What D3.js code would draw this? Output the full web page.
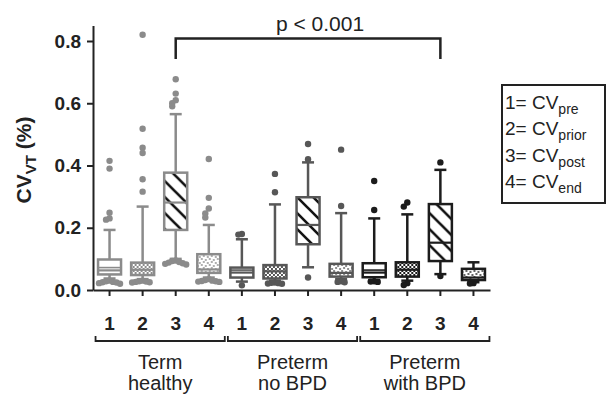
<!DOCTYPE html>
<html>
<head>
<meta charset="utf-8">
<script src="https://cdn.jsdelivr.net/npm/d3@7"></script>
<style>
body { margin: 0; background: #fff; }
svg { font-family: "Liberation Sans", Arial, sans-serif; }
</style>
</head>
<body>
<svg width="606" height="396"></svg>
<script>
// groups and phases
let groups = [["Term", "healthy"], ["Preterm", "no BPD"], ["Preterm", "with BPD"]];
let phases = ["1", "2", "3", "4"];
let legendSubs = ["pre", "prior", "post", "end"];
let yTicks = [0, 0.2, 0.4, 0.6, 0.8];

// box stats, 12 boxes in order group1 1-4, group2 1-4, group3 1-4
let q1 =       [0.050, 0.048, 0.193, 0.055,  0.040, 0.037, 0.147, 0.043,  0.041, 0.043, 0.093, 0.032];
let medians =  [0.063, 0.065, 0.281, 0.066,  0.056, 0.060, 0.209, 0.055,  0.056, 0.065, 0.152, 0.040];
let q3 =       [0.098, 0.088, 0.377, 0.115,  0.072, 0.080, 0.298, 0.084,  0.086, 0.089, 0.276, 0.068];
let whiskLo =  [0.037, 0.035, 0.100, 0.040,  0.027, 0.030, 0.073, 0.035,  0.032, 0.030, 0.051, 0.025];
let whiskHi =  [0.193, 0.268, 0.565, 0.209,  0.163, 0.275, 0.410, 0.247,  0.230, 0.243, 0.386, 0.089];
let secondLine = [0.072, null, null, null,  0.064, null, null, null,  0.064, null, null, null];
let outliers = [
  [0.415, 0.39, 0.248, 0.23, 0.226, 0.03, 0.028, 0.026, 0.025, 0.024, 0.022, 0.02],
  [0.82, 0.518, 0.457, 0.44, 0.356, 0.316, 0.03, 0.028, 0.027, 0.026, 0.025, 0.024],
  [0.677, 0.631, 0.61, 0.6, 0.59, 0.095, 0.093, 0.09, 0.088, 0.086, 0.084, 0.082],
  [0.421, 0.296, 0.262, 0.246, 0.233, 0.035, 0.032, 0.03, 0.029, 0.028, 0.027, 0.026],
  [0.18, 0.178, 0.015],
  [0.373, 0.314, 0.024, 0.023, 0.022, 0.021, 0.02],
  [0.469, 0.42, 0.04],
  [0.451, 0.27, 0.028, 0.026, 0.025],
  [0.35, 0.257, 0.028, 0.027, 0.026],
  [0.281, 0.268, 0.022, 0.016],
  [0.41, 0.045],
  [0.022, 0.021]
];
let groupColors = ["#8b8b8b", "#575757", "#1c1c1c"];
let sigLabel = "p < 0.001";

let svg = d3.select("svg");

let keys = [];
groups.forEach(function(g, gi) {
  phases.forEach(function(p) { keys.push(gi + "-" + p); });
});

let x = d3.scaleBand().domain(keys).range([93, 490]);
let y = d3.scaleLinear().domain([0, 0.85]).range([290, 290 - 0.85 * 311.25]);

let boxes = keys.map(function(k, i) {
  return {
    key: k, group: Math.floor(i / 4), phase: i % 4,
    q1: q1[i], med: medians[i], q3: q3[i], lo: whiskLo[i], hi: whiskHi[i],
    second: secondLine[i], out: outliers[i]
  };
});

// patterns
let defs = svg.append("defs");
groupColors.forEach(function(c, gi) {
  // checker
  let p2 = defs.append("pattern").attr("id", "pat2-" + gi)
    .attr("patternUnits", "userSpaceOnUse").attr("width", 4).attr("height", 4);
  p2.append("rect").attr("width", 4).attr("height", 4).attr("fill", "#fff");
  p2.append("rect").attr("width", 2).attr("height", 2).attr("fill", c);
  p2.append("rect").attr("x", 2).attr("y", 2).attr("width", 2).attr("height", 2).attr("fill", c);
  // hatch
  let p3 = defs.append("pattern").attr("id", "pat3-" + gi)
    .attr("patternUnits", "userSpaceOnUse").attr("width", 16).attr("height", 16);
  p3.append("rect").attr("width", 16).attr("height", 16).attr("fill", "#fff");
  p3.append("path").attr("d", "M-4,-4L20,20M-4,12L4,20M12,-4L20,4")
    .attr("stroke", "#111").attr("stroke-width", 2.6);
  // speckle
  let p4 = defs.append("pattern").attr("id", "pat4-" + gi)
    .attr("patternUnits", "userSpaceOnUse").attr("width", 8).attr("height", 6);
  p4.append("rect").attr("width", 8).attr("height", 6).attr("fill", "#fff");
  [[1, 1], [5, 2], [3, 4], [7, 5]].forEach(function(d) {
    p4.append("circle").attr("cx", d[0]).attr("cy", d[1]).attr("r", 0.9).attr("fill", c);
  });
});

function boxFill(d) {
  if (d.phase === 0) return "#fff";
  return "url(#pat" + (d.phase + 1) + "-" + d.group + ")";
}

let bw = 23, capW = 12;
let bx = svg.append("g").selectAll("g").data(boxes).enter().append("g")
  .attr("transform", function(d) { return "translate(" + (x(d.key) + x.bandwidth() / 2) + ",0)"; });

// whiskers
bx.append("line").attr("y1", function(d) { return y(d.hi); }).attr("y2", function(d) { return y(d.lo); })
  .attr("stroke", function(d) { return groupColors[d.group]; }).attr("stroke-width", 2.5);
bx.append("line").attr("x1", -capW / 2).attr("x2", capW / 2)
  .attr("y1", function(d) { return y(d.hi); }).attr("y2", function(d) { return y(d.hi); })
  .attr("stroke", function(d) { return groupColors[d.group]; }).attr("stroke-width", 2.5);
bx.append("line").attr("x1", -capW / 2).attr("x2", capW / 2)
  .attr("y1", function(d) { return y(d.lo); }).attr("y2", function(d) { return y(d.lo); })
  .attr("stroke", function(d) { return groupColors[d.group]; }).attr("stroke-width", 2.5);

// outliers, spread sideways when they overlap
bx.each(function(d) {
  let placed = [];
  let g = d3.select(this);
  d.out.slice().sort(function(a, b) { return b - a; }).forEach(function(v) {
    let py = y(v);
    let k = placed.filter(function(q) { return Math.abs(q - py) < 5; }).length;
    placed.push(py);
    let off = (k % 2 ? -1 : 1) * Math.ceil(k / 2) * 3.5;
    g.append("circle").attr("cx", off).attr("cy", py).attr("r", 3.2)
      .attr("fill", groupColors[d.group]);
  });
});

// boxes
bx.append("rect").attr("x", -bw / 2).attr("width", bw)
  .attr("y", function(d) { return y(d.q3); })
  .attr("height", function(d) { return y(d.q1) - y(d.q3); })
  .attr("fill", boxFill)
  .attr("stroke", function(d) { return groupColors[d.group]; }).attr("stroke-width", 2.5);
bx.append("line").attr("x1", -bw / 2).attr("x2", bw / 2)
  .attr("y1", function(d) { return y(d.med); }).attr("y2", function(d) { return y(d.med); })
  .attr("stroke", function(d) { return groupColors[d.group]; })
  .attr("stroke-width", 2.2);
bx.filter(function(d) { return d.second !== null; }).append("line")
  .attr("x1", -bw / 2).attr("x2", bw / 2)
  .attr("y1", function(d) { return y(d.second); }).attr("y2", function(d) { return y(d.second); })
  .attr("stroke", function(d) { return groupColors[d.group]; }).attr("stroke-width", 1.6);

// axes
let yAxis = svg.append("g").attr("transform", "translate(93,0)")
  .call(d3.axisLeft(y).tickValues(yTicks).tickFormat(d3.format(".1f")).tickSize(6).tickSizeOuter(0).tickPadding(6));
yAxis.selectAll("text").attr("font-size", 19).attr("font-weight", "bold").attr("fill", "#222")
  .attr("font-family", "Liberation Sans, Arial, sans-serif");

let xAxis = svg.append("g").attr("transform", "translate(0,290)")
  .call(d3.axisBottom(x).tickSize(6).tickSizeOuter(0).tickPadding(21)
    .tickFormat(function(k) { return k.split("-")[1]; }));
xAxis.selectAll("text").attr("font-size", 19).attr("font-weight", "bold").attr("fill", "#222")
  .attr("font-family", "Liberation Sans, Arial, sans-serif");
svg.selectAll(".domain, .tick line").attr("stroke", "#222").attr("stroke-width", 2);

// y label
let yl = svg.append("text").attr("transform", "translate(31,160) rotate(-90)")
  .attr("text-anchor", "middle").attr("font-size", 21).attr("font-weight", "bold").attr("fill", "#222");
yl.append("tspan").text("CV");
yl.append("tspan").attr("dy", 5).attr("font-size", 15).text("VT");
yl.append("tspan").attr("dy", -5).text(" (%)");

// group brackets
groups.forEach(function(g, gi) {
  let x0 = x(gi + "-1") + x.bandwidth() / 2 - 14;
  let x1 = x(gi + "-4") + x.bandwidth() / 2 + 16;
  svg.append("path").attr("d", "M" + x0 + ",336V341H" + x1 + "V336")
    .attr("fill", "none").attr("stroke", "#222").attr("stroke-width", 1.8);
  let t = svg.append("text").attr("text-anchor", "middle")
    .attr("font-size", 20).attr("fill", "#222");
  t.append("tspan").attr("x", (x0 + x1) / 2).attr("y", 369).text(g[0]);
  t.append("tspan").attr("x", (x0 + x1) / 2).attr("y", 390).text(g[1]);
});

// significance bracket
let sx0 = x("0-3") + x.bandwidth() / 2, sx1 = x("2-3") + x.bandwidth() / 2;
svg.append("path").attr("d", "M" + sx0 + "," + y(0.742) + "V" + y(0.808) + "H" + sx1 + "V" + y(0.742))
  .attr("fill", "none").attr("stroke", "#222").attr("stroke-width", 2.5);
svg.append("text").attr("x", (sx0 + sx1) / 2 + 12).attr("y", 31).attr("text-anchor", "middle")
  .attr("font-size", 21).attr("fill", "#222").text(sigLabel);

// legend
svg.append("rect").attr("x", 502).attr("y", 85).attr("width", 103).attr("height", 118)
  .attr("fill", "#fff").attr("stroke", "#222").attr("stroke-width", 2);
phases.forEach(function(p, i) {
  let t = svg.append("text").attr("x", 505).attr("y", 109 + i * 26.3)
    .attr("font-size", 19).attr("fill", "#222");
  t.append("tspan").text(p + "= CV");
  t.append("tspan").attr("dy", 5).attr("font-size", 14).text(legendSubs[i]);
});
</script>
</body>
</html>
